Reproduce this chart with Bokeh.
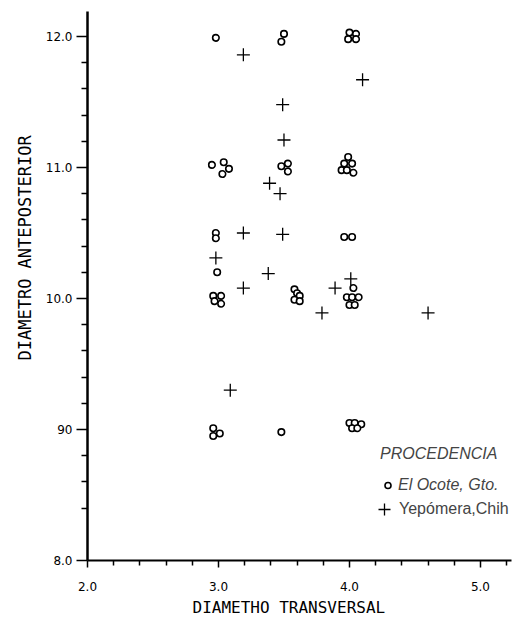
from bokeh.plotting import figure
from bokeh.models import (ColumnDataSource, FixedTicker, Legend, LegendItem, Title, Range1d)
from bokeh.embed import file_html
from bokeh.resources import INLINE

# ---- data ----
x_ocote = [2.98, 3.50, 3.48, 4.00, 4.05, 3.99, 4.05,
           2.95, 3.04, 3.08, 3.03,
           3.48, 3.53, 3.53,
           3.99, 3.96, 4.02, 3.94, 3.98, 4.03,
           2.98, 2.98, 2.99, 2.96, 3.02, 2.97, 3.02,
           3.58, 3.60, 3.62, 3.58, 3.62,
           3.96, 4.02, 4.03, 3.98, 4.02, 4.07, 4.00, 4.04,
           2.96, 3.01, 2.96, 3.48,
           4.00, 4.04, 4.09, 4.02, 4.06]
y_ocote = [11.99, 12.02, 11.96, 12.03, 12.02, 11.98, 11.98,
           11.02, 11.04, 10.99, 10.95,
           11.01, 11.03, 10.97,
           11.08, 11.03, 11.03, 10.98, 10.98, 10.96,
           10.50, 10.46, 10.20, 10.02, 10.02, 9.98, 9.96,
           10.07, 10.04, 10.02, 9.99, 9.98,
           10.47, 10.47, 10.08, 10.01, 10.01, 10.01, 9.95, 9.95,
           9.01, 8.97, 8.95, 8.98,
           9.05, 9.05, 9.04, 9.01, 9.01]

x_yep = [3.19, 4.10, 3.49, 3.50, 3.39, 3.47, 3.19, 3.49, 2.98, 3.38,
         3.19, 4.01, 3.89, 3.79, 4.60, 3.09]
y_yep = [11.86, 11.67, 11.48, 11.21, 10.88, 10.80, 10.50, 10.49, 10.31, 10.19,
         10.08, 10.15, 10.08, 9.89, 9.89, 9.30]

x_major = [2, 3, 4, 5]
x_major_labels = ["2.0", "3.0", "4.0", "5.0"]
x_minor = [2.2, 2.4, 2.6, 2.8, 3.2, 3.4, 3.6, 3.8, 4.2, 4.4, 4.6, 4.8, 5.2]
y_major = [8, 9, 10, 11, 12]
y_major_labels = ["8.0", "90", "10.0", "11.0", "12.0"]
y_minor = [8.4, 8.6, 8.8, 9.2, 9.4, 9.6, 9.8, 10.2, 10.4, 10.6, 10.8,
           11.2, 11.4, 11.6, 11.8]

legend_title = "PROCEDENCIA"
label_ocote = "El Ocote, Gto."
label_yep = "Yepómera,Chih"
x_title = "DIAMETHO TRANSVERSAL"
y_title = "DIAMETRO ANTEPOSTERIOR"

p = figure(width=522, height=622, output_backend="svg", toolbar_location=None,
           x_range=Range1d(2.0, 5.237), y_range=Range1d(8.0, 12.191),
           min_border_left=87, min_border_right=11, min_border_top=11,
           min_border_bottom=62)
p.grid.visible = False
p.outline_line_color = None
p.background_fill_color = "white"
p.border_fill_color = "white"

font = "DejaVu Sans"
for ax in (p.xaxis[0], p.yaxis[0]):
    ax.axis_line_color = "black"
    ax.major_tick_line_color = "black"
    ax.minor_tick_line_color = "black"
    ax.major_tick_in = 0
    ax.minor_tick_in = 0
    ax.major_label_text_font = font
    ax.major_label_text_font_size = "12px"
    ax.major_label_text_color = "black"

xa = p.xaxis[0]
xa.ticker = FixedTicker(ticks=x_major, minor_ticks=x_minor)
xa.major_label_overrides = {t: l for t, l in zip(x_major, x_major_labels)}
xa.axis_line_width = 2
xa.major_tick_line_width = 1.5
xa.minor_tick_line_width = 1.5
xa.major_tick_out = 7
xa.minor_tick_out = 5
xa.major_label_standoff = 14

ya = p.yaxis[0]
ya.ticker = FixedTicker(ticks=y_major, minor_ticks=y_minor)
ya.major_label_overrides = {t: l for t, l in zip(y_major, y_major_labels)}
ya.axis_line_width = 2.5
ya.major_tick_line_width = 1.5
ya.minor_tick_line_width = 1.5
ya.major_tick_out = 11
ya.minor_tick_out = 6
ya.major_label_standoff = 4

src_o = ColumnDataSource(dict(x=x_ocote, y=y_ocote))
src_y = ColumnDataSource(dict(x=x_yep, y=y_yep))
r_o = p.scatter("x", "y", source=src_o, marker="circle", size=6.5,
                fill_color="white", line_color="black", line_width=1.6)
r_y = p.scatter("x", "y", source=src_y, marker="cross", size=13,
                line_color="black", line_width=1.3)

leg1 = Legend(items=[LegendItem(label=label_ocote, renderers=[r_o])],
              location=(293, 66), title=legend_title,
              title_text_font="Liberation Sans", title_text_font_style="italic",
              title_text_font_size="16px", title_standoff=13,
              label_text_font="Liberation Sans", label_text_font_style="italic",
              label_text_font_size="16px", glyph_width=15, glyph_height=16,
              label_standoff=3, padding=0, margin=0, spacing=0,
              border_line_color=None, background_fill_alpha=0)
leg2 = Legend(items=[LegendItem(label=label_yep, renderers=[r_y])],
              location=(282, 36),
              label_text_font="Liberation Sans", label_text_font_size="16px",
              glyph_width=30, glyph_height=30, label_standoff=0,
              padding=0, margin=0, spacing=0,
              border_line_color=None, background_fill_alpha=0)
p.add_layout(leg1)
p.add_layout(leg2)

p.add_layout(Title(text=x_title, align="left", offset=105,
                   text_font="DejaVu Sans Mono", text_font_size="16px",
                   text_font_style="normal", text_color="black", standoff=4), "below")
p.add_layout(Title(text=y_title, align="left", offset=200,
                   text_font="DejaVu Sans Mono", text_font_size="17px",
                   text_font_style="normal", text_color="black", standoff=16), "left")

open("out.html", "w").write(file_html(p, INLINE))
